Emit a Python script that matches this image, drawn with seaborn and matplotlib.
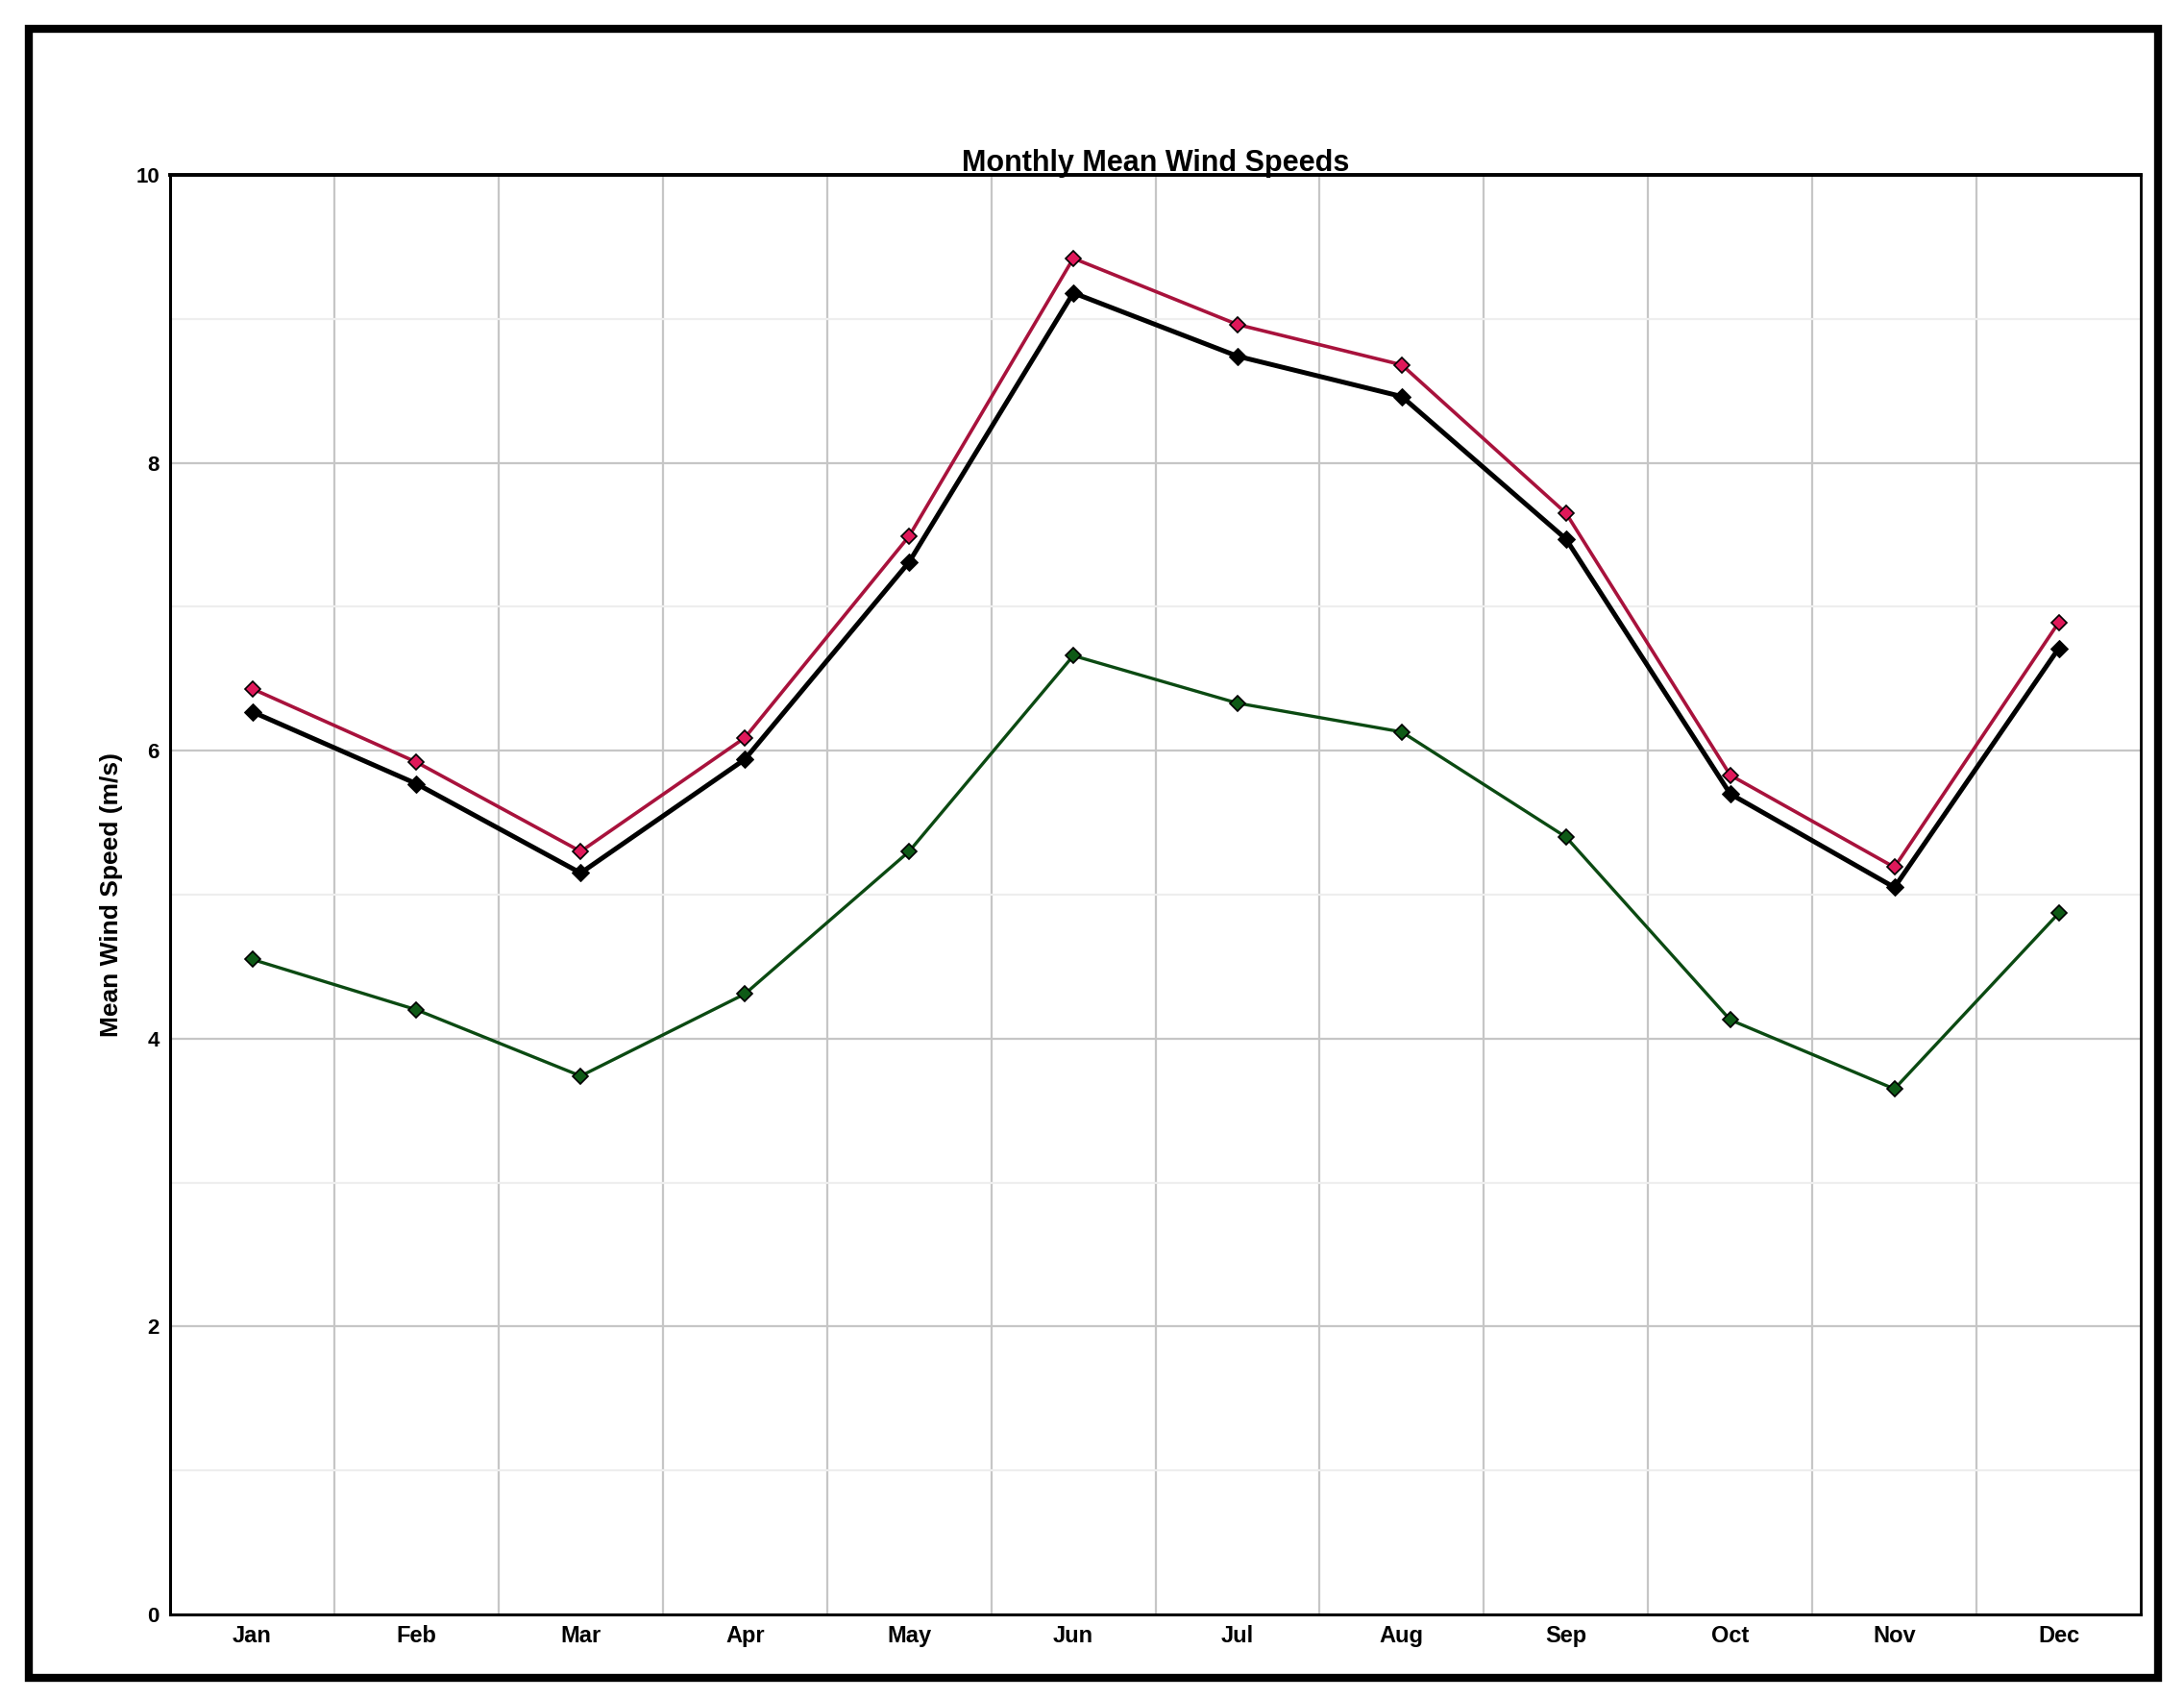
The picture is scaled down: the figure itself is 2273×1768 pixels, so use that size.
import pandas as pd
import matplotlib
matplotlib.use('Agg')
import matplotlib.pyplot as plt
from matplotlib.patches import Rectangle
from matplotlib.ticker import MultipleLocator, FixedLocator
import seaborn as sns

months = ['Jan', 'Feb', 'Mar', 'Apr', 'May', 'Jun', 'Jul', 'Aug', 'Sep', 'Oct', 'Nov', 'Dec']
speed_top = [6.43, 5.92, 5.30, 6.09, 7.49, 9.42, 8.96, 8.68, 7.65, 5.83, 5.19, 6.89]
speed_mid = [6.27, 5.77, 5.15, 5.94, 7.31, 9.18, 8.74, 8.46, 7.47, 5.70, 5.05, 6.71]
speed_low = [4.55, 4.20, 3.74, 4.31, 5.30, 6.66, 6.33, 6.13, 5.40, 4.13, 3.65, 4.87]
yticks = [0, 2, 4, 6, 8, 10]

sns.set_style('white')
plt.rcParams['font.family'] = ['Liberation Sans', 'DejaVu Sans']
plt.rcParams['text.color'] = 'black'
plt.rcParams['axes.labelcolor'] = 'black'
plt.rcParams['xtick.color'] = 'black'
plt.rcParams['ytick.color'] = 'black'

df = pd.DataFrame({'Month': months, 'top': speed_top, 'mid': speed_mid, 'low': speed_low})

fig = plt.figure(figsize=(22.73, 17.68), dpi=100)
ax = fig.add_axes([0.0779, 0.0498, 0.9023, 0.8473])
ax.set_axisbelow(True)

sns.lineplot(data=df, x='Month', y='low', sort=False, ax=ax, color='#0b4a12', lw=2.4,
             marker='D', markersize=8, markerfacecolor='#0e5a16', markeredgecolor='black',
             markeredgewidth=1.2)
sns.lineplot(data=df, x='Month', y='mid', sort=False, ax=ax, color='black', lw=3.6,
             marker='D', markersize=9, markerfacecolor='black', markeredgecolor='black')
sns.lineplot(data=df, x='Month', y='top', sort=False, ax=ax, color='#a8123c', lw=2.6,
             marker='D', markersize=8, markerfacecolor='#e0185a', markeredgecolor='black',
             markeredgewidth=1.2)

ax.set_xlim(-0.5, 11.5)
ax.set_ylim(0, 10)
ax.set_yticks(yticks)
ax.yaxis.set_minor_locator(MultipleLocator(1))
ax.xaxis.set_minor_locator(FixedLocator([i + 0.5 for i in range(-1, 12)]))
ax.set_xticks(range(len(months)))
ax.set_xticklabels(months)

ax.grid(False)
for x in [i + 0.5 for i in range(11)]:
    ax.axvline(x, color='#c6c6c6', lw=1.6, zorder=0)
for y in yticks[1:-1]:
    ax.axhline(y, color='#c6c6c6', lw=1.6, zorder=0)
for y in [1, 3, 5, 7, 9]:
    ax.axhline(y, color='#eeeeee', lw=1.6, zorder=0)

ax.tick_params(axis='x', which='major', length=0, pad=8, labelsize=17)
ax.tick_params(axis='x', which='minor', length=6, width=1.5, direction='out', color='black')
ax.tick_params(axis='y', which='major', length=5, width=1.5, direction='out', labelsize=16, pad=3)
ax.tick_params(axis='y', which='minor', length=0)
for lab in ax.get_xticklabels() + ax.get_yticklabels():
    lab.set_fontweight('bold')

for side in ['left', 'bottom', 'top', 'right']:
    ax.spines[side].set_visible(True)
    ax.spines[side].set_color('black')
ax.spines['left'].set_linewidth(2.2)
ax.spines['bottom'].set_linewidth(2.2)
ax.spines['top'].set_linewidth(2.8)
ax.spines['right'].set_linewidth(2.0)

ax.set_title('Monthly Mean Wind Speeds', fontsize=22, fontweight='bold', pad=3)
ax.set_xlabel('')
ax.set_ylabel('Mean Wind Speed (m/s)', fontsize=19, fontweight='bold')
ax.yaxis.set_label_coords(-0.024, 0.5)

fig.patches.append(Rectangle((0.0132, 0.0124), 0.975, 0.9706, transform=fig.transFigure,
                             fill=False, edgecolor='black', lw=6, zorder=10))

fig.savefig('out.png', dpi=100)
